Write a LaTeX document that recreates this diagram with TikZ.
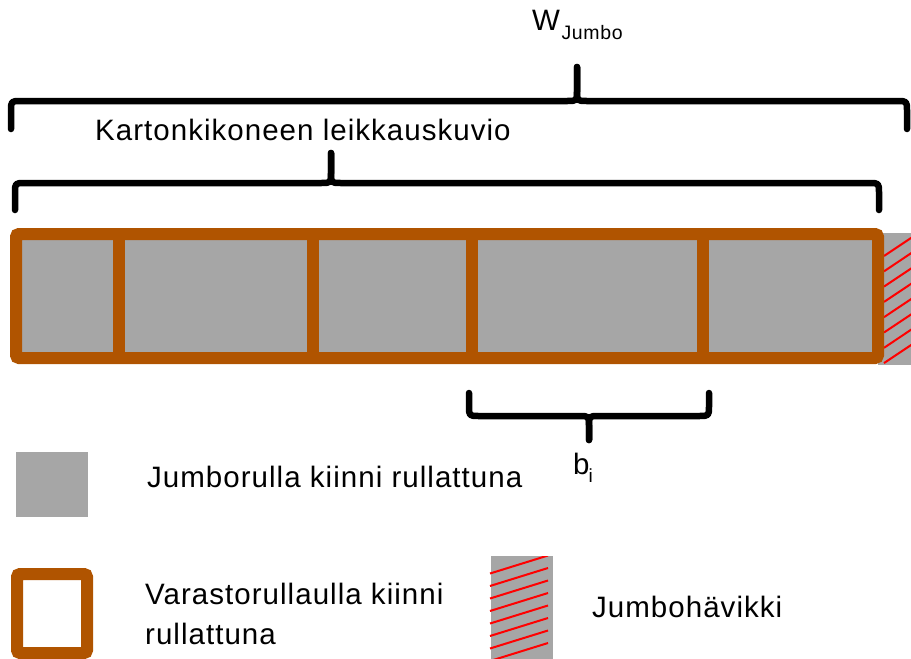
\documentclass[tikz,border=0pt]{standalone}
\usepackage{fontspec}
\setmainfont{Liberation Sans}[LetterSpace=3.5]
\definecolor{rollbrown}{RGB}{176,84,0}
\definecolor{rollgray}{RGB}{166,166,166}
\begin{document}
\begin{tikzpicture}[x=1pt,y=-1pt,
  lbl/.style={anchor=base west,inner sep=0pt,font=\fontsize{29.5}{40}\selectfont},
  bracepath/.style={line width=6.5pt,line cap=round,line join=round},
  frame/.style={draw=rollbrown,line width=12pt},
  hatch/.style={red,line width=2pt}]
\useasboundingbox (0,0) rectangle (911,659);
% main bar
\fill[rollgray] (16,234) rectangle (878,358);
\fill[rollgray] (878,233) rectangle (911,365);
\begin{scope}
\clip (878,233) rectangle (911,365);
\foreach \y in {256,271.3,286.6,301.9,317.2,332.5,347.8,363.1}
  \draw[hatch] (884,\y) -- (912,\y-18.7);
\end{scope}
\draw[frame,rounded corners=3pt] (16,234) rectangle (878,358);
\foreach \x in {118.5,313,472,703}
  \draw[frame] (\x,234) -- (\x,358);
% braces
\draw[bracepath] (11,129) -- (11,111) .. controls (11,101) .. (21,101) -- (567,101) .. controls (577,101) .. (577,91) -- (577,67);
\draw[bracepath] (577,67) -- (577,91) .. controls (577,101) .. (587,101) -- (897,101) .. controls (907,101) .. (907,111) -- (907,129);
\draw[bracepath] (15,210) -- (15,193) .. controls (15,183) .. (25,183) -- (321,183) .. controls (331,183) .. (331,173) -- (331,153);
\draw[bracepath] (331,153) -- (331,173) .. controls (331,183) .. (341,183) -- (869,183) .. controls (879,183) .. (879,193) -- (879,210);
\draw[bracepath] (469,393) -- (469,406) .. controls (469,416) .. (479,416) -- (579,416) .. controls (589,416) .. (589,426) -- (589,440);
\draw[bracepath] (589,440) -- (589,426) .. controls (589,416) .. (599,416) -- (699,416) .. controls (709,416) .. (709,406) -- (709,393);
% texts
\node[lbl] (wj) at (532,30) {W\kern1.5pt\raisebox{-9pt}{\fontsize{19.5}{19.5}\selectfont Jumbo}};
\node[lbl] (kl) at (95,140) {Kartonkikoneen leikkauskuvio};
\node[lbl] (bi) at (573,474) {b\kern-1pt\raisebox{-8pt}{\fontsize{19}{19}\selectfont i}};
% legend
\fill[rollgray] (16,452) rectangle (88,517);
\node[lbl] (l1) at (147,487) {Jumborulla kiinni rullattuna};
\draw[frame,fill=white,rounded corners=3pt] (17,574) rectangle (87,653);
\node[lbl,align=left] (l2) at (145,644) {Varastorullaulla kiinni\\rullattuna};
\fill[rollgray] (491,556) rectangle (553,659);
\begin{scope}
\clip (488,556) rectangle (553,659);
\foreach \y in {573.5,586,598.5,611,623.5,636,648.5,661}
  \draw[hatch] (490,\y) -- (548,\y-18);
\end{scope}
\node[lbl] (l3) at (592,617) {Jumbohävikki};
\end{tikzpicture}
\end{document}
